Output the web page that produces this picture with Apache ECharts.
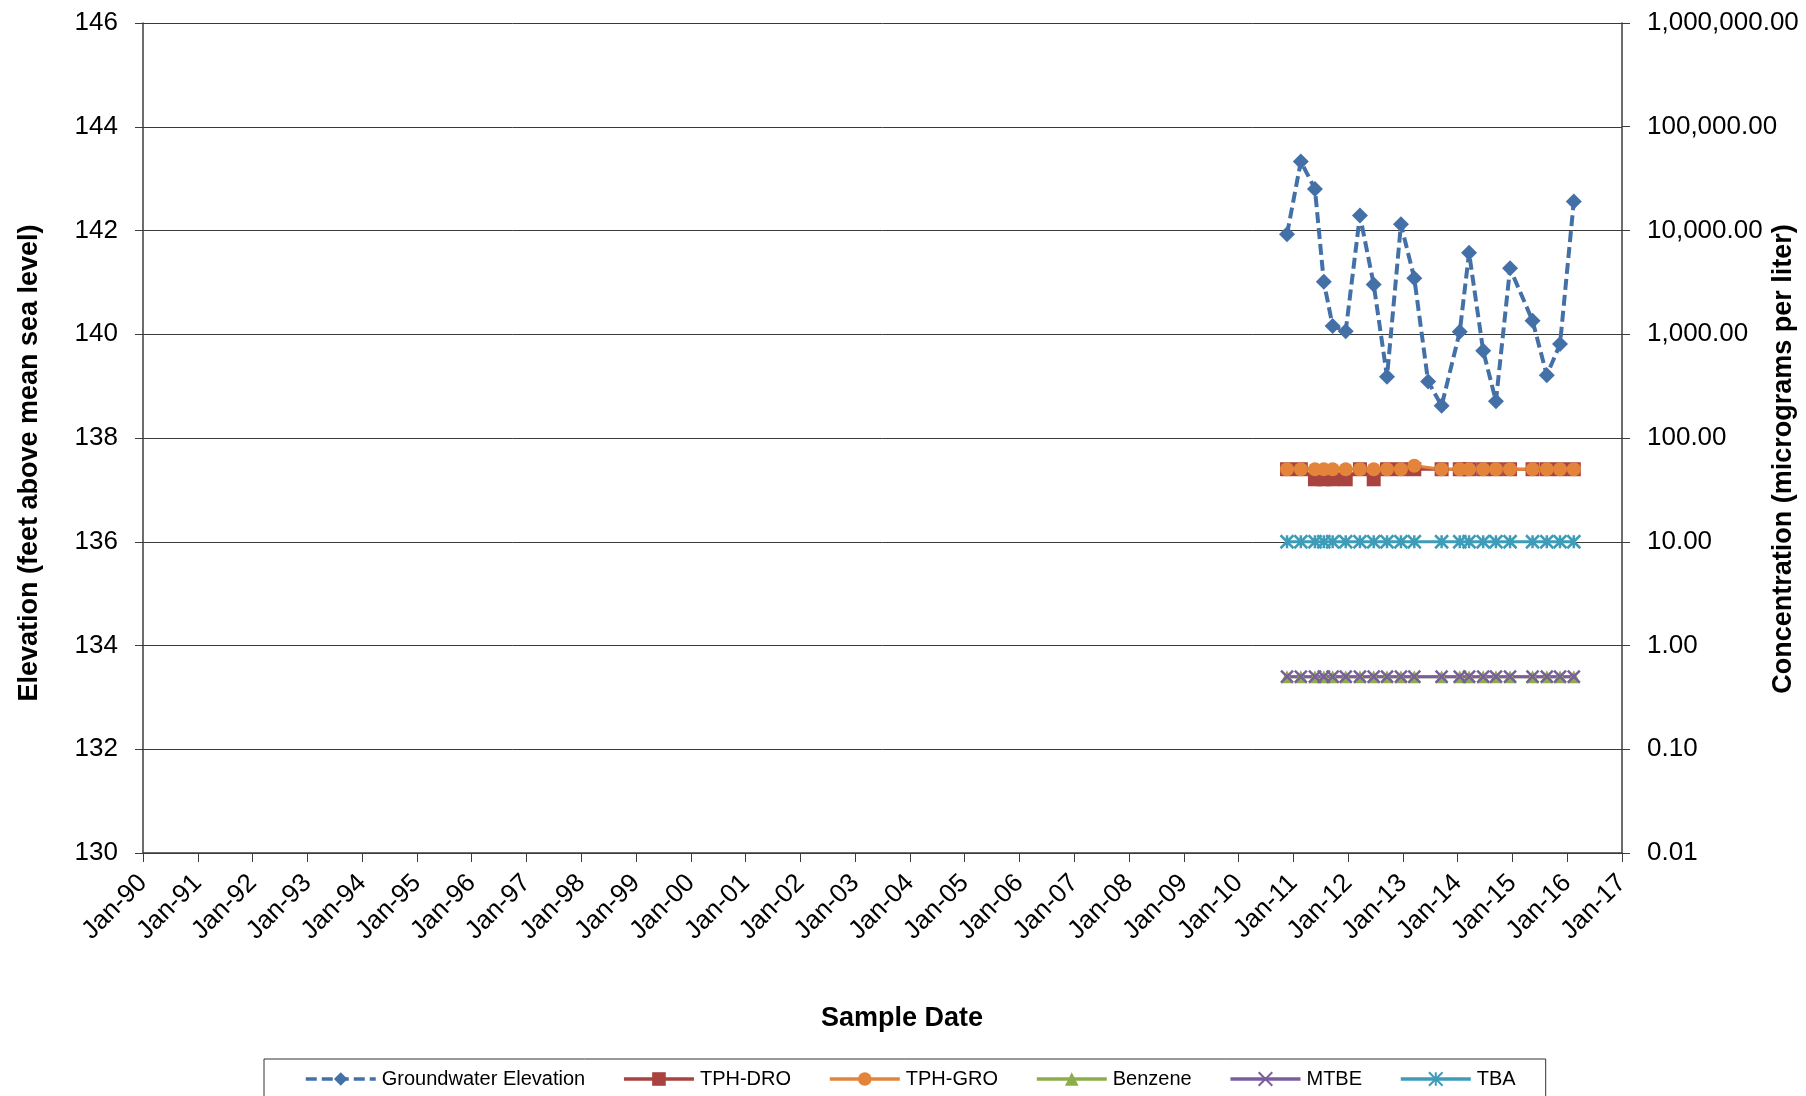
<!DOCTYPE html>
<html><head><meta charset="utf-8">
<script src="https://cdn.jsdelivr.net/npm/echarts@6/dist/echarts.min.js"></script>
<style>html,body{margin:0;padding:0;background:#fff}#c{width:1806px;height:1096px}</style>
</head><body><div id="c"></div>
<script>
// ---- data ----
const gwDates = ['2010-11-20','2011-02-20','2011-05-25','2011-07-23','2011-09-20','2011-12-16',
  '2012-03-20','2012-06-20','2012-09-17','2012-12-19','2013-03-18','2013-06-18','2013-09-16',
  '2014-01-15','2014-03-18','2014-06-20','2014-09-13','2014-12-16','2015-05-15','2015-08-18',
  '2015-11-14','2016-02-14'];
const gwElev = [141.93,143.33,142.80,141.01,140.16,140.06,142.29,140.96,139.18,142.12,141.08,
  139.09,138.62,140.05,141.57,139.68,138.71,141.27,140.26,139.21,139.81,142.56];
const concDates = ['2010-11-20','2011-02-20','2011-05-25','2011-07-23','2011-09-20','2011-12-16',
  '2012-03-20','2012-06-20','2012-09-17','2012-12-19','2013-03-18','2013-09-16',
  '2014-01-15','2014-03-18','2014-06-20','2014-09-13','2014-12-16','2015-05-15','2015-08-18',
  '2015-11-14','2016-02-14'];
const tphDro  = [50,50,40,40,40,40,50,40,50,50,50,50,50,50,50,50,50,50,50,50,50];
const tphGro  = [50,50,50,50,50,50,50,50,50,50,54,50,50,50,50,50,50,50,50,50,50];
const benzene = [0.5,0.5,0.5,0.5,0.5,0.5,0.5,0.5,0.5,0.5,0.5,0.5,0.5,0.5,0.5,0.5,0.5,0.5,0.5,0.5,0.5];
const mtbe    = [0.5,0.5,0.5,0.5,0.5,0.5,0.5,0.5,0.5,0.5,0.5,0.5,0.5,0.5,0.5,0.5,0.5,0.5,0.5,0.5,0.5];
const tba     = [10,10,10,10,10,10,10,10,10,10,10,10,10,10,10,10,10,10,10,10,10];
const xMinYear = 1990, xMaxYear = 2017;
const elevMin = 130, elevMax = 146, elevStep = 2;
const concMin = 0.01, concMax = 1000000;

// ---- helpers ----
function decYear(s){const p=s.split('-').map(Number);const t=Date.UTC(p[0],p[1]-1,p[2]);
  const a=Date.UTC(p[0],0,1),b=Date.UTC(p[0]+1,0,1);return p[0]+(t-a)/(b-a);}
function pair(dates,vals){return dates.map((d,i)=>[decYear(d),vals[i]]);}

const C = {blue:'#4470A8',red:'#A8433F',orange:'#E3843A',green:'#8CAE4A',purple:'#7A5E9C',teal:'#3E9CB8'};
const FONT = 'Liberation Sans, Arial, sans-serif';
const AX = '#3c3c3c';
const X_SYM = 'path://M0,0L10,10M10,0L0,10';
const STAR_SYM = 'path://M0,0L10,10M10,0L0,10M5,0L5,10';

const chart = echarts.init(document.getElementById('c'), null, {renderer:'canvas'});
function concSeries(name, vals, color, symbol, size, extra){
  return Object.assign({name, type:'line', yAxisIndex:1, data:pair(concDates, vals),
    symbol, symbolSize:size, lineStyle:{color, width:3}, itemStyle:{color, borderColor:color, borderWidth:0},
    z:3}, extra||{});
}
chart.setOption({
  animation:false,
  backgroundColor:'#fff',
  textStyle:{fontFamily:FONT},
  grid:{left:143, right:184, top:23, bottom:243, containLabel:false},
  xAxis:{type:'value', min:xMinYear, max:xMaxYear, interval:1,
    axisLine:{show:true, onZero:false, lineStyle:{color:AX, width:1.5}},
    axisTick:{show:true, length:9, lineStyle:{color:AX, width:1}},
    splitLine:{show:false},
    axisLabel:{rotate:45, margin:26, fontSize:26, color:'#000', fontFamily:FONT,
      formatter:v=>'Jan-'+String(Math.round(v)%100).padStart(2,'0')}},
  yAxis:[
    {type:'value', min:elevMin, max:elevMax, interval:elevStep, position:'left',
      axisLine:{show:true, lineStyle:{color:AX, width:1.5}},
      axisTick:{show:true, length:8, lineStyle:{color:AX}},
      splitLine:{show:true, lineStyle:{color:'#3a3a3a', width:1}},
      axisLabel:{margin:25, fontSize:26, color:'#000', fontFamily:FONT}},
    {type:'log', logBase:10, min:concMin, max:concMax, position:'right',
      axisLine:{show:true, lineStyle:{color:AX, width:1.5}},
      axisTick:{show:true, length:8, lineStyle:{color:AX}},
      splitLine:{show:false},
      axisLabel:{margin:25, fontSize:26, color:'#000', fontFamily:FONT,
        formatter:v=>Number(v).toLocaleString('en-US',{minimumFractionDigits:2, maximumFractionDigits:2})}}
  ],
  legend:{left:264, top:1059, orient:'horizontal', itemWidth:70, itemHeight:17, itemGap:37,
    padding:[10,30,30,40], borderColor:'#333', borderWidth:1,
    lineStyle:{width:3.5},
    textStyle:{fontSize:20, color:'#000', fontFamily:FONT, padding:[0,0,0,1]},
    data:['Groundwater Elevation','TPH-DRO','TPH-GRO','Benzene','MTBE','TBA']},
  graphic:[
    {type:'text', x:30, y:463, rotation:Math.PI/2, style:{text:'Elevation (feet above mean sea level)',
      font:'bold 27px '+FONT, fill:'#000', align:'center', verticalAlign:'middle'}},
    {type:'text', x:1784, y:459, rotation:Math.PI/2, style:{text:'Concentration (micrograms per liter)',
      font:'bold 27px '+FONT, fill:'#000', align:'center', verticalAlign:'middle'}},
    {type:'text', x:902, y:1019, style:{text:'Sample Date',
      font:'bold 27px '+FONT, fill:'#000', align:'center', verticalAlign:'middle'}}
  ],
  series:[
    {name:'Groundwater Elevation', type:'line', yAxisIndex:0, data:pair(gwDates, gwElev),
      symbol:'diamond', symbolSize:16, lineStyle:{color:C.blue, width:4, type:[11,5]},
      itemStyle:{color:C.blue}, z:4},
    concSeries('TPH-DRO', tphDro, C.red, 'rect', 14),
    concSeries('TPH-GRO', tphGro, C.orange, 'circle', 14),
    concSeries('Benzene', benzene, C.green, 'triangle', 13),
    concSeries('MTBE', mtbe, C.purple, X_SYM, 12, {itemStyle:{color:C.purple, borderColor:C.purple, borderWidth:2.5}}),
    concSeries('TBA', tba, C.teal, STAR_SYM, 13, {itemStyle:{color:C.teal, borderColor:C.teal, borderWidth:2.5}})
  ]
});
</script></body></html>
